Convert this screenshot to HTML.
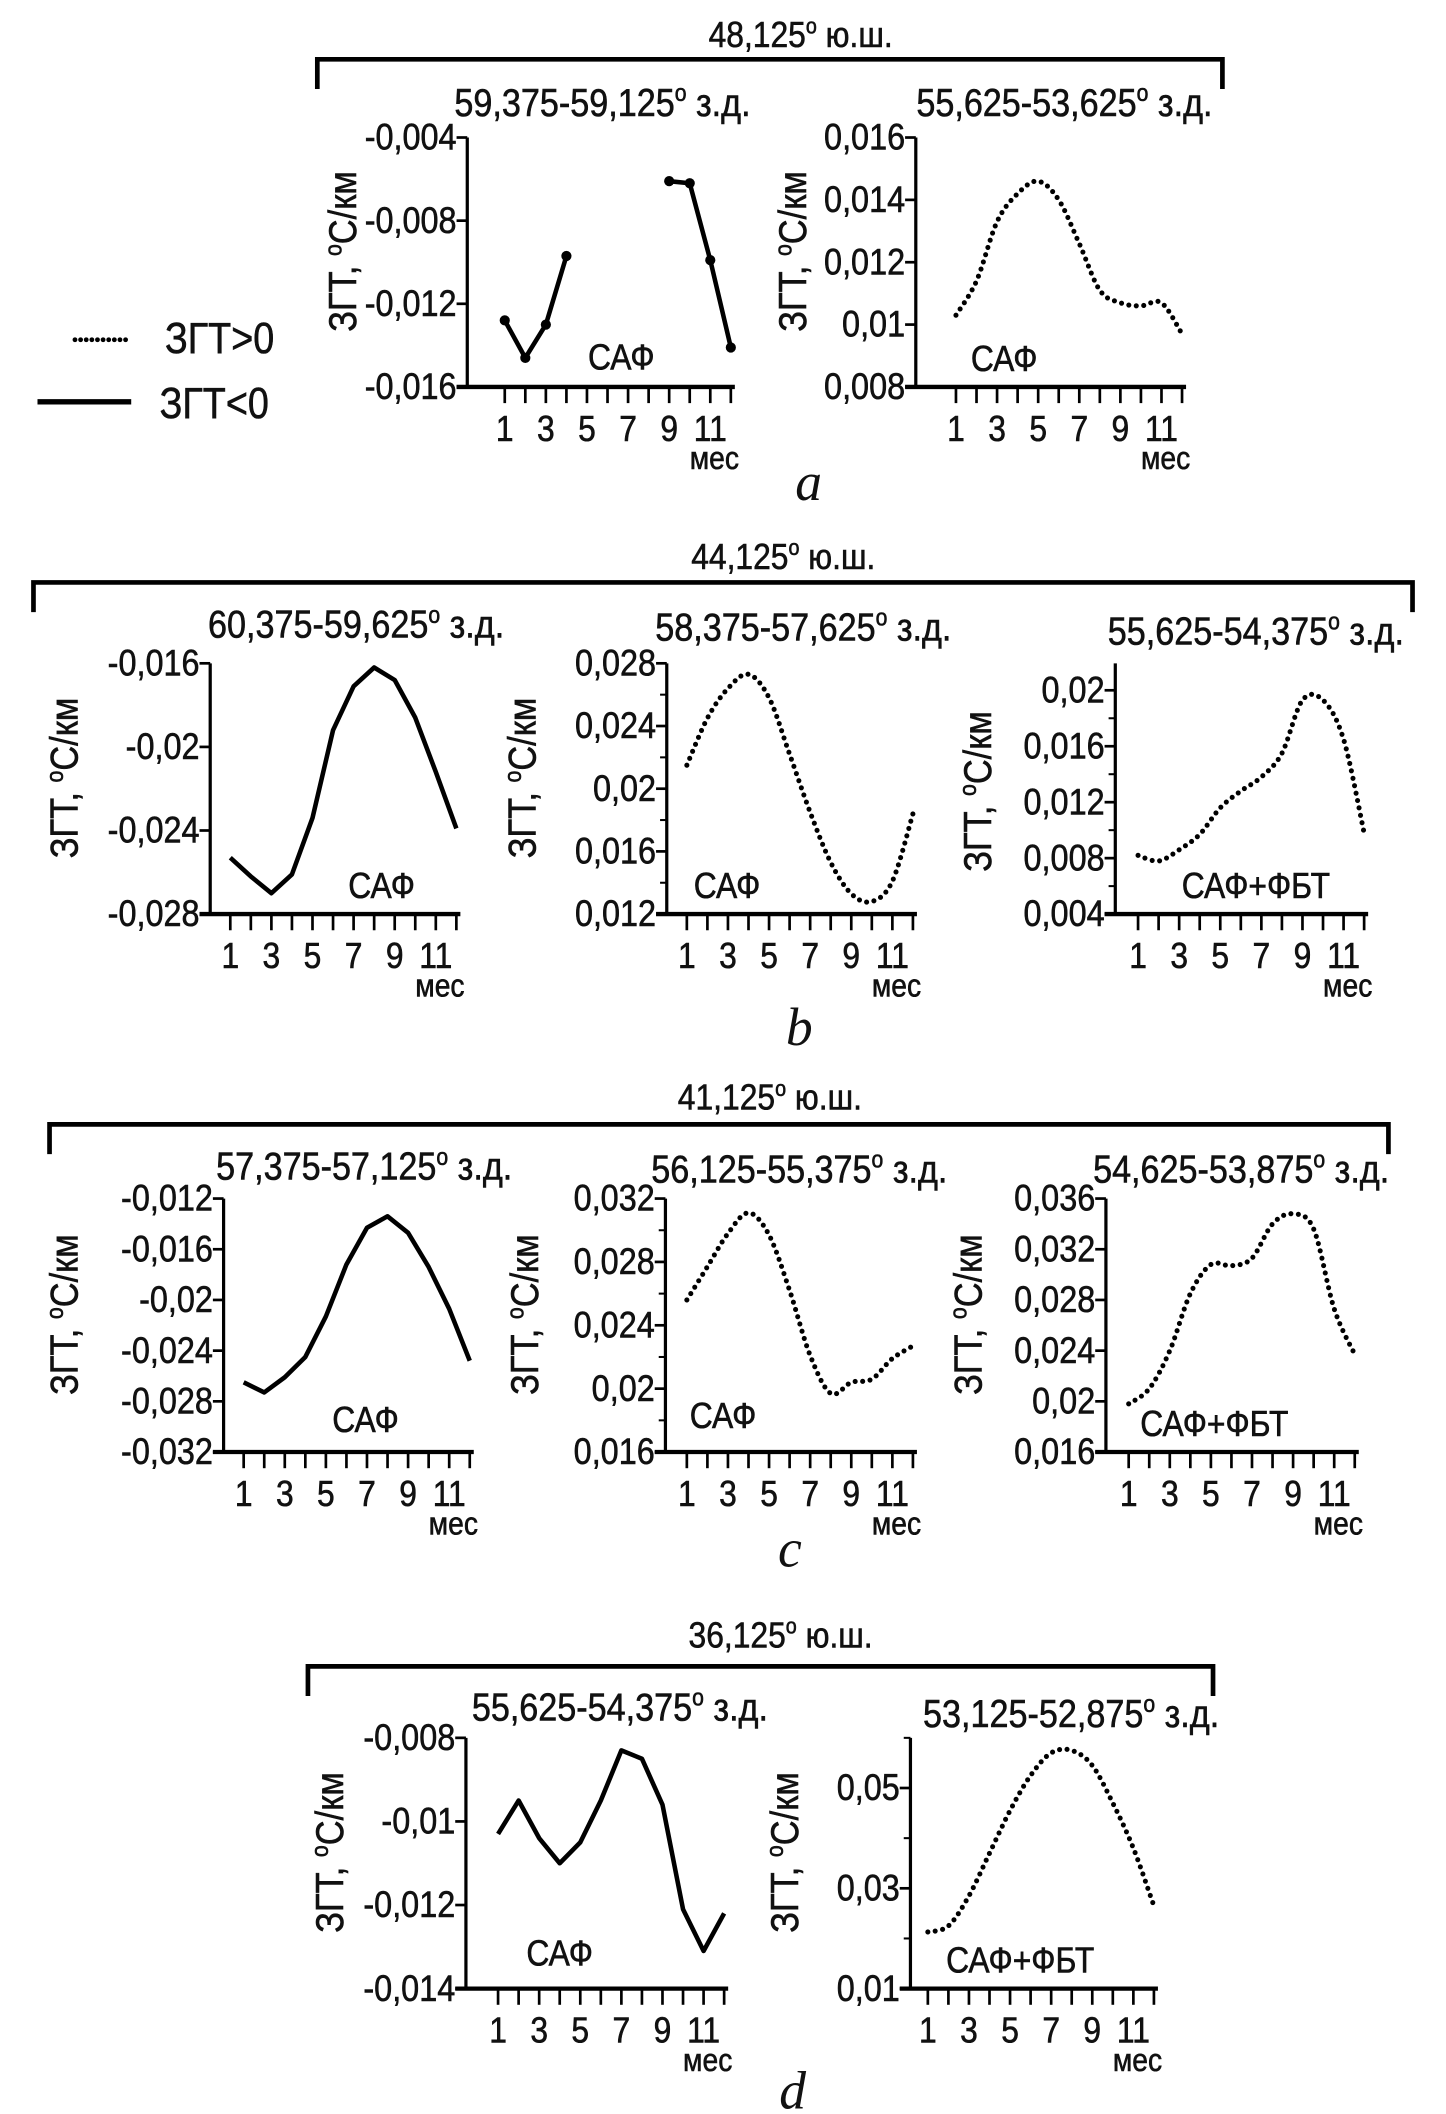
<!DOCTYPE html>
<html><head><meta charset="utf-8"><style>
html,body{margin:0;padding:0;background:#fff;}
svg{display:block;}
text{font-family:"Liberation Sans","DejaVu Sans",sans-serif;fill:#111;stroke:#111;stroke-width:0.45px;}
</style></head><body>
<svg id="fig" xmlns="http://www.w3.org/2000/svg" width="1446" height="2114" viewBox="0 0 1080 1568" preserveAspectRatio="none"></svg>
<script>
const months = [1,2,3,4,5,6,7,8,9,10,11,12];
const monthLabels = ["1","3","5","7","9","11"];
// panel a
const a1Months = [1,2,3,4,9,10,11,12];
const a1Values = [-0.0128,-0.0146,-0.0130,-0.0097,-0.0061,-0.0062,-0.0099,-0.0141];
const a1Ticks = [-0.004,-0.008,-0.012,-0.016];
const a1TickLabels = ["-0,004","-0,008","-0,012","-0,016"];
const a2Values = [0.0103,0.0114,0.0133,0.0142,0.0146,0.0140,0.0126,0.0111,0.0107,0.0106,0.0107,0.0097];
const a2Ticks = [0.016,0.014,0.012,0.010,0.008];
const a2TickLabels = ["0,016","0,014","0,012","0,01","0,008"];
// panel b
const b1Values = [-0.0253,-0.0262,-0.0270,-0.0261,-0.0234,-0.0192,-0.0171,-0.0162,-0.0168,-0.0186,-0.0212,-0.0239];
const b1Ticks = [-0.016,-0.020,-0.024,-0.028];
const b1TickLabels = ["-0,016","-0,02","-0,024","-0,028"];
const b2Values = [0.0215,0.0245,0.0264,0.0273,0.0258,0.0222,0.0185,0.0153,0.0133,0.0128,0.0141,0.0184];
const b2Ticks = [0.028,0.024,0.020,0.016,0.012];
const b2TickLabels = ["0,028","0,024","0,02","0,016","0,012"];
const b3Values = [0.0082,0.0078,0.0086,0.0097,0.0116,0.0128,0.0138,0.0155,0.0193,0.0193,0.0165,0.0098];
const b3Ticks = [0.020,0.016,0.012,0.008,0.004];
const b3TickLabels = ["0,02","0,016","0,012","0,008","0,004"];
// panel c
const c1Values = [-0.0265,-0.0273,-0.0261,-0.0245,-0.0213,-0.0172,-0.0143,-0.0134,-0.0147,-0.0174,-0.0207,-0.0248];
const c1Ticks = [-0.012,-0.016,-0.020,-0.024,-0.028,-0.032];
const c1TickLabels = ["-0,012","-0,016","-0,02","-0,024","-0,028","-0,032"];
const c2Values = [0.0256,0.0277,0.0298,0.0311,0.0297,0.0262,0.0221,0.0197,0.0204,0.0206,0.0219,0.0227];
const c2Ticks = [0.032,0.028,0.024,0.020,0.016];
const c2TickLabels = ["0,032","0,028","0,024","0,02","0,016"];
const c3Values = [0.0198,0.0210,0.0240,0.0285,0.0308,0.0307,0.0313,0.0340,0.0348,0.0336,0.0273,0.0237];
const c3Ticks = [0.036,0.032,0.028,0.024,0.020,0.016];
const c3TickLabels = ["0,036","0,032","0,028","0,024","0,02","0,016"];
// panel d
const d1Values = [-0.0103,-0.0095,-0.0104,-0.0110,-0.0105,-0.0095,-0.0083,-0.0085,-0.0096,-0.0121,-0.0131,-0.0122];
const d1Ticks = [-0.008,-0.010,-0.012,-0.014];
const d1TickLabels = ["-0,008","-0,01","-0,012","-0,014"];
const d2Values = [0.0213,0.0225,0.0285,0.0370,0.0455,0.0525,0.0570,0.0575,0.0545,0.0470,0.0380,0.0265];
const d2Ticks = [0.05,0.03,0.01];
const d2TickLabels = ["0,05","0,03","0,01"];
const d2Minor = [0.06,0.04,0.02];

const NS="http://www.w3.org/2000/svg";
const svg=document.getElementById('fig');
const SX=0.88;
function el(tag,attrs,parent){const e=document.createElementNS(NS,tag);for(const k in attrs)e.setAttribute(k,attrs[k]);(parent||svg).appendChild(e);return e;}
function txt(x,y,s,size,anchor,parent){const t=el('text',{x:0,y:0,'font-size':size,'text-anchor':anchor||'middle',transform:`translate(${x},${y}) scale(${SX},1)`},parent);t.textContent=s;return t;}
function degText(x,y,pre,post,size,parent,rot){
  const tr=`translate(${x},${y})`+(rot?` rotate(${rot})`:'')+` scale(${SX},1)`;
  const t=el('text',{x:0,y:0,'font-size':size,'text-anchor':'middle',transform:tr},parent);
  t.appendChild(document.createTextNode(pre));
  const s=el('tspan',{'font-size':size*0.62,dy:-size*0.38},t);s.textContent='o';
  const p=el('tspan',{dy:size*0.38},t);p.textContent=post;
  return t;
}
function bracket(name,x1,x2,y,y2,label,lx,ly){
  const g=el('g',{});
  
  
  el('path',{d:`M${x1} ${y2} L${x1} ${y} L${x2} ${y} L${x2} ${y2}`,fill:'none',stroke:'#000','stroke-width':3.5},g);
  const t=degText(lx,ly,label,' ю.ш.',27,g);
  
  
}
function catmull(pts){
  let d=`M${pts[0][0]} ${pts[0][1]}`;
  for(let i=0;i<pts.length-1;i++){
    const p0=pts[i-1]||pts[i],p1=pts[i],p2=pts[i+1],p3=pts[i+2]||p2;
    const c1x=p1[0]+(p2[0]-p0[0])/6,c1y=p1[1]+(p2[1]-p0[1])/6;
    const c2x=p2[0]-(p3[0]-p1[0])/6,c2y=p2[1]-(p3[1]-p1[1])/6;
    d+=` C${c1x} ${c1y} ${c2x} ${c2y} ${p2[0]} ${p2[1]}`;
  }
  return d;
}
function chart(cfg){
  const g=el('g',{});
  
  
  const {ax,top,bottom,vTop,vBot,m1x,step}=cfg;
  const yS=v=>top+(vTop-v)/(vTop-vBot)*(bottom-top);
  const xS=m=>m1x+(m-1)*step;
  const axTop=cfg.axTop!==undefined?cfg.axTop:top;
  const ya=el('line',{x1:ax,y1:axTop,x2:ax,y2:bottom,stroke:'#000','stroke-width':2.4},g);
  
  
  const xa=el('line',{x1:ax-8,y1:bottom,x2:xS(12)+3,y2:bottom,stroke:'#000','stroke-width':3.2},g);
  
  
  cfg.ticks.forEach((v,i)=>{
    const y=yS(v);
    el('line',{x1:ax-8,y1:y,x2:ax,y2:y,stroke:'#000','stroke-width':2},g);
    const t=txt(ax-8,y+9,cfg.tickLabels[i],27.5,'end',g);
    
    
  });
  (cfg.minor||[]).forEach(v=>{const y=yS(v);el('line',{x1:ax-5,y1:y,x2:ax,y2:y,stroke:'#000','stroke-width':1.5},g);});
  months.forEach(m=>{el('line',{x1:xS(m),y1:bottom,x2:xS(m),y2:bottom+12,stroke:'#000','stroke-width':2},g);});
  monthLabels.forEach(s=>{
    const t=txt(xS(+s),bottom+40,s,27,'middle',g);
    
    
  });
  const mt=txt(xS(11.2),bottom+61,'мес',24,'middle',g);
  
  
  const yt=degText(cfg.ylx,(top+bottom)/2-8,'ЗГТ, ','С/км',29,g,-90);
  
  
  const st=degText(cfg.subX,cfg.subY,cfg.sub,' з.д.',29,g);
  
  
  const lt=txt(cfg.labX,cfg.labY,cfg.lab,27,'middle',g);
  
  
  const ms=cfg.months||months;
  const pts=ms.map((m,i)=>[xS(m),yS(cfg.values[i])]);
  if(cfg.dotted){
    const p=el('path',{d:catmull(pts),fill:'none',stroke:'#000','stroke-width':3.8,'stroke-linecap':'round','stroke-dasharray':'0 5.6'},g);
    
    
  } else if(cfg.segments){
    cfg.segments.forEach(seg=>{
      const sp=pts.slice(seg[0],seg[1]);
      const p=el('polyline',{points:sp.map(q=>q.join(',')).join(' '),fill:'none',stroke:'#000','stroke-width':3.4,'stroke-linejoin':'round'},g);
      
      
    });
    pts.forEach(q=>{
      const c=el('circle',{cx:q[0],cy:q[1],r:3.8,fill:'#000'},g);
      
      
    });
  } else {
    const p=el('polyline',{points:pts.map(q=>q.join(',')).join(' '),fill:'none',stroke:'#000','stroke-width':3.4,'stroke-linejoin':'round'},g);
    
    
  }
}
function letter(s,x,y){
  const t=el('text',{x:x,y:y,'font-size':40,'text-anchor':'middle','font-style':'italic',style:'font-family:"Liberation Serif",serif;stroke-width:0'});
  t.textContent=s;
  
  
}
const ST=15.35;
const lg=el('g',{});


el('line',{x1:56,y1:252,x2:94,y2:252,stroke:'#000','stroke-width':3.6,'stroke-linecap':'round','stroke-dasharray':'0 4.2'},lg);
txt(164,262,'ЗГТ>0',32,'middle',lg);
el('line',{x1:28,y1:298,x2:98,y2:298,stroke:'#000','stroke-width':4},lg);
txt(160,310,'ЗГТ<0',32,'middle',lg);

bracket('bracket-a',237,913,44,66,'48,125',598,35);
chart({name:'chart-a1',ax:349,top:102,bottom:287,vTop:-0.004,vBot:-0.016,m1x:377,step:ST,ticks:a1Ticks,tickLabels:a1TickLabels,
  months:a1Months,values:a1Values,segments:[[0,4],[4,8]],ylx:266,subX:450,subY:86,sub:'59,375-59,125',labX:464,labY:274,lab:'САФ'});
chart({name:'chart-a2',ax:684,top:102,bottom:287,vTop:0.016,vBot:0.008,m1x:714,step:ST,ticks:a2Ticks,tickLabels:a2TickLabels,
  values:a2Values,dotted:true,ylx:602,subX:795,subY:86,sub:'55,625-53,625',labX:750,labY:275,lab:'САФ'});
letter('a',604,371);
bracket('bracket-b',25,1055,432,454,'44,125',585,422);
chart({name:'chart-b1',ax:157,top:492,bottom:678,vTop:-0.016,vBot:-0.028,m1x:172,step:ST,ticks:b1Ticks,tickLabels:b1TickLabels,
  values:b1Values,ylx:58,subX:266,subY:473,sub:'60,375-59,625',labX:285,labY:666,lab:'САФ'});
chart({name:'chart-b2',ax:498,top:492,bottom:678,vTop:0.028,vBot:0.012,m1x:513,step:ST,ticks:b2Ticks,tickLabels:b2TickLabels,
  minor:[0.026,0.022,0.018,0.014],values:b2Values,dotted:true,ylx:400,subX:600,subY:475,sub:'58,375-57,625',labX:543,labY:666,lab:'САФ'});
chart({name:'chart-b3',ax:833,top:512,bottom:678,vTop:0.020,vBot:0.004,axTop:492,m1x:850,step:ST,ticks:b3Ticks,tickLabels:b3TickLabels,
  minor:[0.018,0.014,0.010,0.006],values:b3Values,dotted:true,ylx:740,subX:938,subY:478,sub:'55,625-54,375',labX:938,labY:666,lab:'САФ+ФБТ'});
letter('b',597,775);
bracket('bracket-c',37,1037,834,856,'41,125',575,823);
chart({name:'chart-c1',ax:167,top:889,bottom:1077,vTop:-0.012,vBot:-0.032,m1x:182,step:ST,ticks:c1Ticks,tickLabels:c1TickLabels,
  values:c1Values,ylx:58,subX:272,subY:875,sub:'57,375-57,125',labX:273,labY:1062,lab:'САФ'});
chart({name:'chart-c2',ax:497,top:889,bottom:1077,vTop:0.032,vBot:0.016,m1x:513,step:ST,ticks:c2Ticks,tickLabels:c2TickLabels,
  minor:[0.030,0.026,0.022,0.018],values:c2Values,dotted:true,ylx:402,subX:597,subY:877,sub:'56,125-55,375',labX:540,labY:1059,lab:'САФ'});
chart({name:'chart-c3',ax:826,top:889,bottom:1077,vTop:0.036,vBot:0.016,m1x:843,step:ST,ticks:c3Ticks,tickLabels:c3TickLabels,
  values:c3Values,dotted:true,ylx:733,subX:927,subY:877,sub:'54,625-53,875',labX:907,labY:1065,lab:'САФ+ФБТ'});
letter('c',590,1162);
bracket('bracket-d',230,906,1236,1258,'36,125',583,1222);
chart({name:'chart-d1',ax:348,top:1289,bottom:1475,vTop:-0.008,vBot:-0.014,m1x:372,step:ST,ticks:d1Ticks,tickLabels:d1TickLabels,
  values:d1Values,ylx:256,subX:463,subY:1276,sub:'55,625-54,375',labX:418,labY:1458,lab:'САФ'});
chart({name:'chart-d2',ax:680,top:1289,bottom:1475,vTop:0.06,vBot:0.01,m1x:693,step:ST,ticks:d2Ticks,tickLabels:d2TickLabels,
  minor:d2Minor,values:d2Values,dotted:true,ylx:596,subX:800,subY:1281,sub:'53,125-52,875',labX:762,labY:1463,lab:'САФ+ФБТ'});
letter('d',592,1564);
</script>
</body></html>
